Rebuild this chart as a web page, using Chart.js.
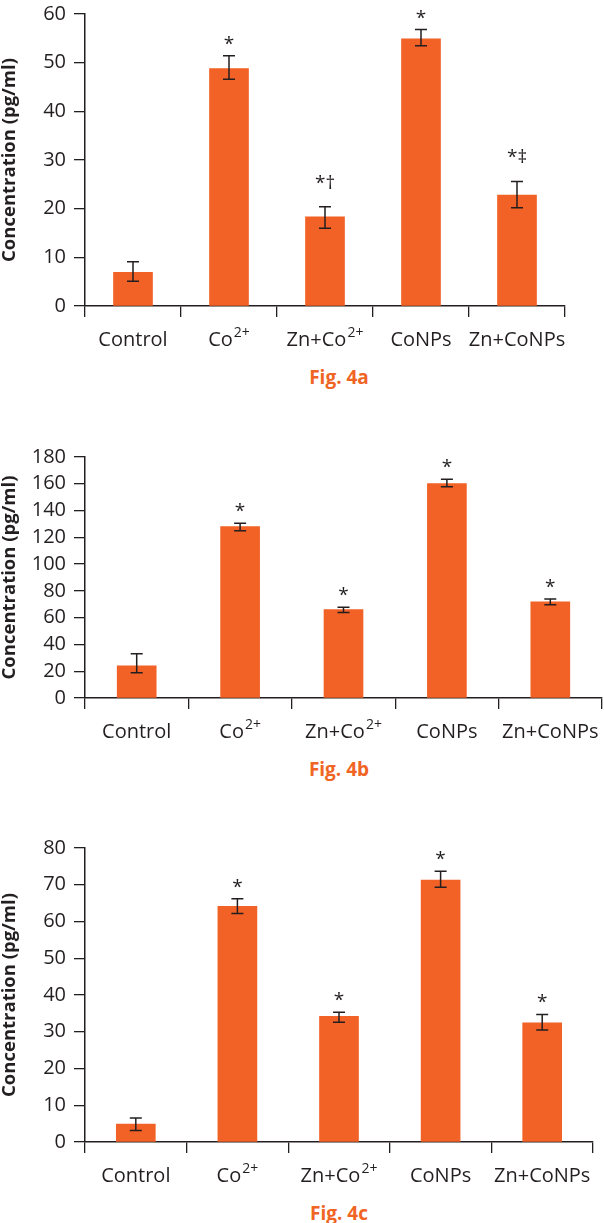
<!DOCTYPE html>
<html>
<head>
<meta charset="utf-8">
<script src="https://cdn.jsdelivr.net/npm/chart.js@4.4.0/dist/chart.umd.min.js"></script>
<style>
  body { margin: 0; background: #fff; width: 604px; height: 1223px; position: relative; overflow: hidden; }
  canvas { position: absolute; left: 0; }
  .cap { position: absolute; left: 239px; width: 200px; text-align: center; font: bold 19px 'Open Sans', sans-serif; color: #f06424; line-height: 22px; }
</style>
</head>
<body>
<canvas id="figA"></canvas>
<div class="cap" style="top:366px">Fig. 4a</div>
<canvas id="figB"></canvas>
<div class="cap" style="top:758px">Fig. 4b</div>
<canvas id="figC"></canvas>
<div class="cap" style="top:1202px">Fig. 4c</div>
<script>
// categories, "^" marks the superscript part
const categories = ['Control', 'Co^2+', 'Zn+Co^2+', 'CoNPs', 'Zn+CoNPs'];

// Fig. 4a
const valuesA = [6.9, 48.8, 18.3, 54.9, 22.8];
const highA = [9.1, 51.4, 20.4, 56.8, 25.6];
const lowA = [5.1, 46.6, 16.0, 53.5, 20.2];
const marksA = ['', '*', '*\u2020', '*', '*\u2021'];
const ticksA = [0, 10, 20, 30, 40, 50, 60];

// Fig. 4b
const valuesB = [24, 128, 66, 160.2, 71.8];
const highB = [33.1, 130.5, 67.8, 163.4, 74];
const lowB = [18.9, 124.9, 63.9, 157.7, 69.6];
const marksB = ['', '*', '*', '*', '*'];
const ticksB = [0, 20, 40, 60, 80, 100, 120, 140, 160, 180];

// Fig. 4c
const valuesC = [4.9, 64.1, 34.2, 71.3, 32.4];
const highC = [6.5, 66.2, 35.3, 73.7, 34.7];
const lowC = [3.1, 62.2, 32.6, 69.3, 30.5];
const marksC = ['', '*', '*', '*', '*'];
const ticksC = [0, 10, 20, 30, 40, 50, 60, 70, 80];

const ORANGE = '#f26125';
const INK = '#231f20';
const FONT = "'Open Sans', sans-serif";
const PAD_TOP = 16;
const XAXIS_H = 52;
const PAGE_W = 604;

// error bars, significance marks and x labels with superscripts
const extras = {
    id: 'extras',
    afterDatasetsDraw(chart) {
        const ctx = chart.ctx;
        const xs = chart.scales.x;
        const ys = chart.scales.y;
        const ex = chart.options.plugins.extras;
        ctx.save();
        ctx.strokeStyle = INK;
        ctx.lineWidth = 1.5;
        ex.high.forEach((h, i) => {
            const x = xs.getPixelForValue(i);
            const yh = ys.getPixelForValue(h);
            const yl = ys.getPixelForValue(ex.low[i]);
            ctx.beginPath();
            ctx.moveTo(x, yh); ctx.lineTo(x, yl);
            ctx.moveTo(x - 6, yh); ctx.lineTo(x + 6, yh);
            ctx.moveTo(x - 6, yl); ctx.lineTo(x + 6, yl);
            ctx.stroke();

            const m = ex.marks[i];
            if (m) {
                ctx.fillStyle = INK;
                ctx.font = '19px ' + FONT;
                ctx.textAlign = 'center';
                ctx.textBaseline = 'alphabetic';
                const off = m.length > 1 ? 18 : 6;
                ctx.fillText(m, x, yh - off);
            }
        });

        // x labels
        ctx.fillStyle = INK;
        ctx.textBaseline = 'alphabetic';
        ctx.textAlign = 'left';
        const ly = xs.top + 40;
        categories.forEach((c, i) => {
            const parts = c.split('^');
            ctx.font = '20px ' + FONT;
            const w1 = ctx.measureText(parts[0]).width;
            let w2 = 0;
            if (parts[1]) {
                ctx.font = '14px ' + FONT;
                w2 = ctx.measureText(parts[1]).width + 1;
            }
            const x0 = xs.getPixelForValue(i) - (w1 + w2) / 2;
            ctx.font = '20px ' + FONT;
            ctx.fillText(parts[0], x0, ly);
            if (parts[1]) {
                ctx.font = '14px ' + FONT;
                ctx.fillText(parts[1], x0 + w1 + 1, ly - 9);
            }
        });
        ctx.restore();
    }
};

function makeChart(id, values, high, low, marks, ticks, box) {
    const canvas = document.getElementById(id);
    canvas.width = PAGE_W;
    canvas.height = PAD_TOP + (box.bottom - box.top) + XAXIS_H;
    canvas.style.top = (box.top - PAD_TOP) + 'px';
    return new Chart(canvas, {
        type: 'bar',
        data: {
            labels: categories,
            datasets: [{
                data: values,
                backgroundColor: ORANGE,
                borderWidth: 0,
                barThickness: 39
            }]
        },
        plugins: [extras],
        options: {
            responsive: false,
            animation: false,
            devicePixelRatio: 1,
            layout: { padding: { top: PAD_TOP, right: PAGE_W - box.right, bottom: 0, left: 0 } },
            plugins: {
                legend: { display: false },
                tooltip: { enabled: false },
                extras: { high: high, low: low, marks: marks }
            },
            scales: {
                x: {
                    afterFit: s => { s.height = XAXIS_H; },
                    grid: { display: true, drawOnChartArea: false, drawTicks: true, tickLength: 11, color: INK, lineWidth: 1.3, offset: true },
                    border: { color: INK, width: 1.5 },
                    ticks: { callback: () => '' }
                },
                y: {
                    min: ticks[0],
                    max: ticks[ticks.length - 1],
                    afterFit: s => { s.width = 85; },
                    afterBuildTicks: s => { s.ticks = ticks.map(v => ({ value: v })); },
                    grid: { drawOnChartArea: false, drawTicks: true, tickLength: 11, color: INK, lineWidth: 1.3 },
                    border: { color: INK, width: 1.5 },
                    ticks: {
                        autoSkip: false,
                        padding: 8,
                        color: INK,
                        font: { family: FONT, size: 20 }
                    },
                    title: {
                        display: true,
                        text: 'Concentration (pg/ml)',
                        color: INK,
                        padding: 0,
                        font: { family: FONT, size: 18.5, weight: 'bold', lineHeight: 1 }
                    }
                }
            }
        }
    });
}

makeChart('figA', valuesA, highA, lowA, marksA, ticksA, { top: 10, bottom: 306, right: 565 });
makeChart('figB', valuesB, highB, lowB, marksB, ticksB, { top: 453, bottom: 698, right: 602 });
makeChart('figC', valuesC, highC, lowC, marksC, ticksC, { top: 844, bottom: 1142, right: 593 });
</script>
</body>
</html>
